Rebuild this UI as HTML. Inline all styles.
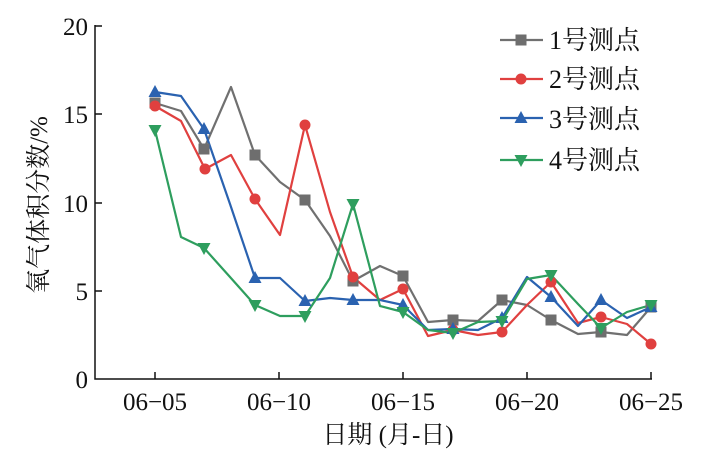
<!DOCTYPE html>
<html><head><meta charset="utf-8"><style>body{margin:0;background:#fff}svg{display:block}text{font-family:"Liberation Serif","Noto Serif CJK SC",serif;fill:#111}</style></head><body>
<svg width="716" height="462" viewBox="0 0 716 462" xmlns="http://www.w3.org/2000/svg">
<defs>
<rect id="sq" x="-5.5" y="-5.5" width="11" height="11" fill="#6e6e6e"/>
<circle id="ci" r="5.5" fill="#e0403f"/>
<path id="tu" d="M0,-7 L6.5,5 L-6.5,5Z" fill="#2a62b0"/>
<path id="td" d="M0,7 L6.5,-5 L-6.5,-5Z" fill="#2e9e5e"/>
</defs>
<g fill="none" stroke-width="2.2" stroke-linejoin="round">
<polyline stroke="#707070" points="155,103 181,111 204,149 231,87 255,155 280,182 305,200 330,236 353,281 380,266 403,276 428,322 453,320 478,321 502,300 527,305 551,320 578,334 601,332 627,335 651,307"/>
<polyline stroke="#e0403f" points="155,106 181,121 205,169 231,155 255,199 280,235 305,125 330,212 353,277 380,300 403,289 428,336 453,330 478,335 502,332 527,305 551,282 578,323 601,317 627,324 651,344"/>
<polyline stroke="#2a62b0" points="155,92 181,96 204,129 230,204 255,278 280,278 305,301 330,298 353,300 380,300 403,305 428,330 453,329 478,330 502,318 527,277 551,297 578,326 601,300 627,318 651,307"/>
<polyline stroke="#2e9e5e" points="155,130 181,237 204,248 230,277 255,305 280,316 305,316 330,278 353,204 380,306 403,312 428,330 453,333 478,322 502,321 527,279 551,275 578,304 601,328 627,312 651,305"/>
</g>
<g>
<use href="#sq" x="155" y="103"/><use href="#sq" x="204" y="149"/><use href="#sq" x="255" y="155"/><use href="#sq" x="305" y="200"/><use href="#sq" x="353" y="281"/><use href="#sq" x="403" y="276"/><use href="#sq" x="453" y="320"/><use href="#sq" x="502" y="300"/><use href="#sq" x="551" y="320"/><use href="#sq" x="601" y="332"/><use href="#sq" x="651" y="307"/>
<use href="#ci" x="155" y="106"/><use href="#ci" x="205" y="169"/><use href="#ci" x="255" y="199"/><use href="#ci" x="305" y="125"/><use href="#ci" x="353" y="277"/><use href="#ci" x="403" y="289"/><use href="#ci" x="453" y="330"/><use href="#ci" x="502" y="332"/><use href="#ci" x="551" y="282"/><use href="#ci" x="601" y="317"/><use href="#ci" x="651" y="344"/>
<use href="#tu" x="155" y="92"/><use href="#tu" x="204" y="129"/><use href="#tu" x="255" y="278"/><use href="#tu" x="305" y="301"/><use href="#tu" x="353" y="300"/><use href="#tu" x="403" y="305"/><use href="#tu" x="453" y="329"/><use href="#tu" x="502" y="318"/><use href="#tu" x="551" y="297"/><use href="#tu" x="601" y="300"/><use href="#tu" x="651" y="307"/>
<use href="#td" x="155" y="130"/><use href="#td" x="204" y="248"/><use href="#td" x="255" y="305"/><use href="#td" x="305" y="316"/><use href="#td" x="353" y="204"/><use href="#td" x="403" y="312"/><use href="#td" x="453" y="333"/><use href="#td" x="502" y="321"/><use href="#td" x="551" y="275"/><use href="#td" x="601" y="328"/><use href="#td" x="651" y="305"/>
</g>
<g stroke="#111" stroke-width="1.5" fill="none">
<path d="M95,25 V379 H652"/>
<path d="M95,26 h7 M95,114 h7 M95,203 h7 M95,291 h7"/>
<path d="M155,379 v-7 M279,379 v-7 M403,379 v-7 M527,379 v-7 M651,379 v-7"/>
</g>
<g font-size="25" text-anchor="end">
<text x="88" y="35">20</text><text x="88" y="123">15</text><text x="88" y="212">10</text><text x="88" y="300">5</text><text x="88" y="388">0</text>
</g>
<g font-size="25" text-anchor="middle">
<text x="155" y="410">06−05</text><text x="279" y="410">06−10</text><text x="403" y="410">06−15</text><text x="527" y="410">06−20</text><text x="651" y="410">06−25</text>
<text x="388" y="443">日期 (月-日)</text>
</g>
<text font-size="25" text-anchor="middle" transform="translate(47,205) rotate(-90)">氧气体积分数/%</text>
<g stroke-width="2.2">
<line x1="500" y1="40" x2="543" y2="40" stroke="#707070"/><use href="#sq" x="521" y="40"/>
<line x1="500" y1="79" x2="543" y2="79" stroke="#e0403f"/><use href="#ci" x="521" y="79"/>
<line x1="500" y1="118" x2="543" y2="118" stroke="#2a62b0"/><use href="#tu" x="521" y="118"/>
<line x1="500" y1="160" x2="543" y2="160" stroke="#2e9e5e"/><use href="#td" x="521" y="160"/>
</g>
<g font-size="26">
<text x="549" y="49">1号测点</text><text x="549" y="88">2号测点</text><text x="549" y="128">3号测点</text><text x="549" y="169">4号测点</text>
</g>
</svg>
</body></html>
